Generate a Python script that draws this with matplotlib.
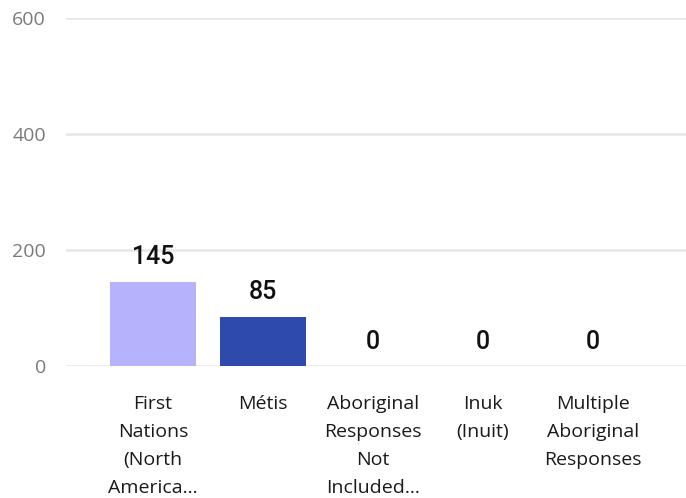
import numpy as np
import matplotlib.pyplot as plt

categories = ["First\nNations\n(North\nAmerica...", "Métis", "Aboriginal\nResponses\nNot\nIncluded...",
              "Inuk\n(Inuit)", "Multiple\nAboriginal\nResponses"]
values = [145, 85, 0, 0, 0]
colors = ["#b6b2fc", "#2f4aad", "#2f4aad", "#2f4aad", "#2f4aad"]
yticks = [0, 200, 400, 600]

fig = plt.figure(figsize=(6.86, 4.98), dpi=100)
ax = fig.add_axes([66/686, 0.265, 620/686, 0.699])

x = np.arange(len(categories))
ax.bar(x, values, width=0.78, color=colors, zorder=2)

for xi, v in zip(x, values):
    ax.annotate(str(v), (xi, v), xytext=(0, 9), textcoords="offset points",
                ha="center", va="bottom", fontsize=18, family="Roboto",
                fontweight="medium", color="#111111")

ax.set_xlim(-0.79, 4.845)
ax.set_ylim(0, 600)
ax.set_yticks(yticks)
ax.set_xticks(x)
ax.set_xticklabels(categories, fontsize=14, family="Open Sans", color="#1a1a1a",
                   linespacing=1.7)
ax.tick_params(axis="x", length=0, pad=21)
ax.tick_params(axis="y", length=0, pad=14.5, labelsize=14, labelcolor="#7a7a7a")
for lab in ax.get_yticklabels():
    lab.set_family("Open Sans")

ax.grid(axis="y", color="#e6e6e6", linewidth=1.8, zorder=0)
for s in ax.spines.values():
    s.set_visible(False)
ax.set_axisbelow(True)

fig.savefig("out.png", dpi=100)
